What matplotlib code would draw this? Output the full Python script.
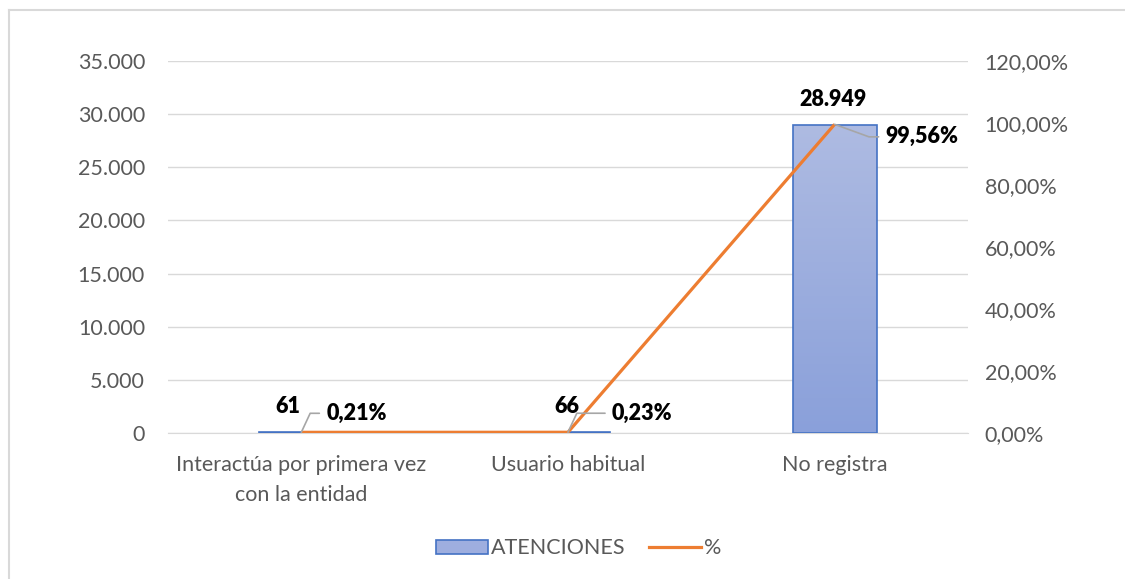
import numpy as np
import matplotlib
matplotlib.use('Agg')
import matplotlib.pyplot as plt
from matplotlib.lines import Line2D
from matplotlib.patches import Rectangle
from matplotlib.ticker import FuncFormatter

# Data
categories = ['Interactúa por primera vez\ncon la entidad', 'Usuario habitual', 'No registra']
atenciones = [61, 66, 28949]
porcentaje = [0.0021, 0.0023, 0.9956]
count_labels = ['61', '66', '28.949']
pct_labels = ['0,21%', '0,23%', '99,56%']

plt.rcParams['font.family'] = ['Lato', 'DejaVu Sans']
GRAY = '#595959'
GRID = '#d9d9d9'
ORANGE = '#ed7d31'
BLUE_EDGE = '#4472c4'
FS = 15.5

fig = plt.figure(figsize=(11.25, 5.79), dpi=100)
ax = fig.add_axes([0.1493, 0.2522, 0.7111, 0.6425])
ax2 = ax.twinx()

x = np.arange(len(categories))
bar_w = 0.315

# gradient bars
grad = np.linspace(0, 1, 256).reshape(-1, 1)
cmap = matplotlib.colors.LinearSegmentedColormap.from_list('g', ['#8aa0da', '#aebbe2'])
bars = ax.bar(x, atenciones, width=bar_w, facecolor='none', edgecolor=BLUE_EDGE,
              linewidth=1.2, zorder=3)
for b in bars:
    bx, by = b.get_x(), b.get_y()
    bw, bh = b.get_width(), b.get_height()
    im = ax.imshow(grad, cmap=cmap, extent=[bx, bx + bw, by, by + bh], origin='lower',
                   aspect='auto', zorder=2)
    clip = Rectangle((bx, by), bw, bh, transform=ax.transData)
    im.set_clip_path(clip)
ax.set_aspect('auto')
ax.set_xlim(-0.5, 2.5)
ax.set_ylim(0, 35000)
ax2.set_ylim(0, 1.2)

ax2.plot(x, porcentaje, color=ORANGE, linewidth=2.3, zorder=4, solid_capstyle='butt')

# axes styling
ax.set_yticks(np.arange(0, 35001, 5000))
ax.yaxis.set_major_formatter(FuncFormatter(lambda v, p: f'{int(v):,}'.replace(',', '.')))
ax2.set_yticks(np.arange(0, 1.21, 0.2))
ax2.yaxis.set_major_formatter(FuncFormatter(lambda v, p: f'{v*100:.2f}%'.replace('.', ',')))
ax.set_xticks(x)
ax.set_xticklabels(categories, linespacing=1.6)
ax.grid(axis='y', color=GRID, linewidth=1, zorder=0)
ax.set_axisbelow(True)
for a in (ax, ax2):
    for s in a.spines.values():
        s.set_visible(False)
    a.tick_params(length=0, labelsize=FS, colors=GRAY)
ax.spines['bottom'].set_visible(True)
ax.spines['bottom'].set_color(GRID)
ax.tick_params(axis='y', pad=16.5)
ax2.tick_params(axis='y', pad=12)
ax.tick_params(axis='x', pad=16)
ax.patch.set_visible(False)
ax2.set_zorder(ax.get_zorder() + 1)

# data labels
count_offsets = [(-9.4, 18.7), (-1, 18.7), (-1, 18.7)]
for xi, v, lab, off in zip(x, atenciones, count_labels, count_offsets):
    ax.annotate(lab, xy=(xi, v), xytext=off, textcoords='offset points', ha='center',
                va='center', fontsize=FS, fontweight='heavy', color='black', zorder=6)

pct_offsets = [(18, 13.7), (31.7, 13.7), (36.7, -9)]
for xi, v, lab, off in zip(x, porcentaje, pct_labels, pct_offsets):
    ax2.annotate(lab, xy=(xi, v), xytext=off, textcoords='offset points', ha='left',
                 va='center', fontsize=FS, fontweight='heavy', color='black', zorder=6,
                 arrowprops=dict(arrowstyle='-', color='#a6a6a6', lw=1.2, shrinkA=3, shrinkB=0,
                                 connectionstyle='angle,angleA=0,angleB=65' if off[1] > 0
                                 else 'angle,angleA=0,angleB=-20'))

# legend
handles = [Rectangle((0, 0), 1, 1, facecolor='#9eaedf', edgecolor=BLUE_EDGE, linewidth=1.2),
           Line2D([0], [0], color=ORANGE, linewidth=2.3)]
fig.legend(handles, ['ATENCIONES', '%'], loc='center', bbox_to_anchor=(0.514, 0.053),
           ncol=2, frameon=False, fontsize=FS, labelcolor=GRAY, handlelength=2.45,
           handleheight=0.6, handletextpad=0.1, columnspacing=1.1)

# chart frame
fig.add_artist(Line2D([0.008, 0.008], [0, 0.983], color=GRID, linewidth=1.5,
                      transform=fig.transFigure))
fig.add_artist(Line2D([0.008, 1.0], [0.983, 0.983], color=GRID, linewidth=1.5,
                      transform=fig.transFigure))

fig.savefig('out.png', dpi=100, facecolor='white')
